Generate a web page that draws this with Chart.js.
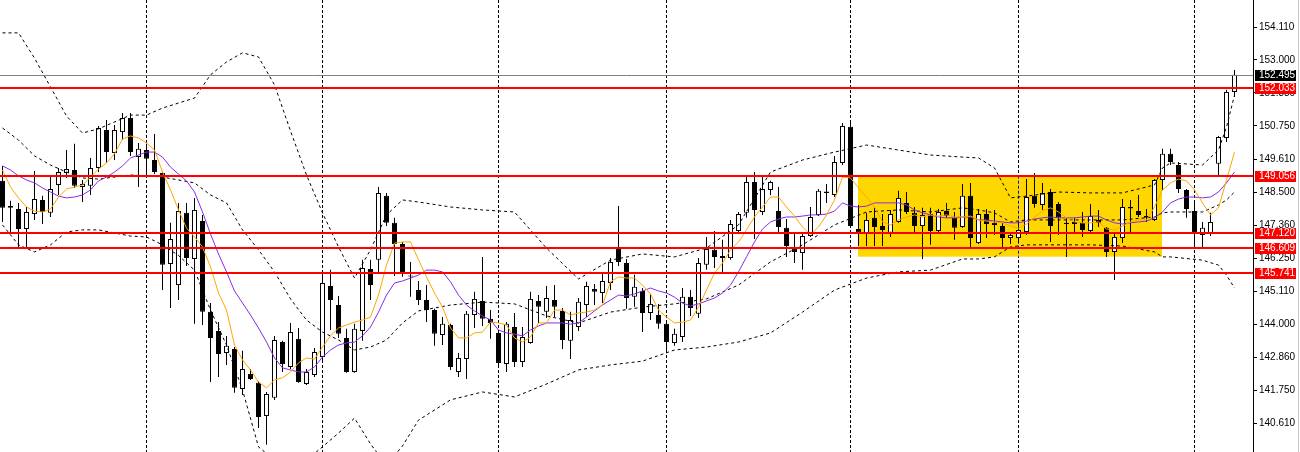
<!DOCTYPE html>
<html>
<head>
<meta charset="utf-8">
<script src="https://cdn.jsdelivr.net/npm/chart.js@4.4.1/dist/chart.umd.min.js"></script>
<style>
  html, body { margin: 0; padding: 0; background: #fff; }
  canvas { display: block; }
</style>
</head>
<body>
<canvas id="chart" width="1300" height="452"></canvas>
<script>
// candles, oldest first
const candleOpen = [
  148.88,147.96,147.92,147.24,147.75,148.23,147.79,148.74,149.15,149.25,
  148.67,148.71,149.32,150.61,149.83,150.54,151.02,149.69,149.93,149.59,
  149.15,146.05,145.33,147.79,146.22,147.51,144.42,143.77,143.02,143.15,
  141.79,142.30,142.00,140.87,141.49,143.39,142.54,143.50,141.96,142.27,
  142.88,145.30,144.65,143.53,142.37,143.77,145.88,146.19,148.37,147.45,
  146.73,145.64,145.16,144.82,144.48,143.63,143.97,142.37,142.81,144.31,
  144.79,144.18,143.70,142.64,143.90,142.71,143.36,144.79,144.42,144.82,
  144.45,143.43,143.90,144.65,145.20,145.06,145.40,146.63,146.08,144.93,
  145.13,144.38,144.31,144.01,143.36,143.56,144.93,144.35,146.02,146.53,
  146.32,146.25,147.17,147.79,148.84,147.82,148.57,147.85,147.28,146.59,
  146.42,147.00,147.72,148.52,148.40,149.49,150.72,147.24,147.07,147.62,
  147.34,147.11,147.48,148.13,147.79,147.34,147.75,147.17,147.85,147.62,
  147.31,148.37,146.76,147.75,147.45,147.34,146.93,146.93,147.14,148.37,
  148.06,148.50,148.09,147.45,147.41,147.45,147.17,147.55,147.28,146.46,
  146.93,147.99,147.85,147.68,147.55,148.91,149.80,149.42,148.57,147.85,
  147.04,147.07,149.46,150.34,151.91
];
const candleHigh = [
  149.39,148.20,148.13,147.99,149.22,148.37,149.01,149.32,149.93,150.14,
  148.91,149.66,150.75,150.95,150.78,151.19,151.19,150.17,150.14,150.48,
  149.18,147.45,148.13,148.13,148.30,147.72,144.72,144.07,143.60,143.22,
  143.09,142.47,142.06,141.69,143.60,143.43,144.04,143.87,142.47,143.19,
  145.74,145.85,144.96,143.84,144.01,146.19,146.19,148.67,148.47,147.62,
  146.80,146.12,145.47,145.33,144.52,144.24,144.01,143.02,144.45,145.10,
  146.29,144.48,143.77,144.07,144.38,143.90,145.10,144.99,145.30,145.33,
  144.55,144.42,144.89,145.44,145.37,145.74,146.25,148.02,146.22,145.68,
  145.23,145.03,144.69,144.14,143.84,145.23,145.16,146.25,146.97,147.17,
  146.87,147.55,147.82,149.05,149.18,149.05,148.88,148.67,147.58,147.11,
  147.07,147.99,148.60,148.77,149.73,150.85,150.92,148.06,147.79,147.96,
  147.75,147.89,148.54,148.50,147.99,147.96,147.96,147.92,148.13,147.82,
  148.77,148.81,147.92,147.92,147.89,147.45,147.14,147.48,148.94,149.15,
  148.81,148.60,148.16,147.62,147.62,147.82,148.09,147.89,147.31,147.14,
  148.26,148.23,148.40,147.92,148.94,149.97,149.97,149.52,148.60,148.23,
  147.48,147.79,150.41,151.98,152.66
];
const candleLow = [
  147.48,147.14,146.63,146.56,147.55,147.41,147.65,148.40,148.98,148.64,
  148.16,148.40,149.18,149.49,149.59,150.27,149.73,148.67,149.05,149.11,
  145.16,144.55,144.82,145.98,144.01,143.97,142.03,142.20,142.61,141.66,
  141.59,142.10,140.46,139.89,141.42,142.37,142.47,142.00,141.93,142.20,
  142.78,143.80,143.53,142.34,142.34,143.43,144.82,145.71,147.34,145.64,
  145.61,144.93,144.65,144.07,143.26,143.29,142.44,142.20,142.13,143.87,
  143.94,143.50,142.51,142.37,142.54,142.54,143.33,144.04,144.21,144.24,
  143.15,142.81,143.77,144.24,144.65,144.72,145.16,145.98,144.52,144.59,
  143.73,144.14,143.84,143.05,143.26,143.39,144.28,144.21,145.85,145.91,
  145.78,146.19,147.11,147.62,146.90,147.72,148.40,147.11,146.29,146.08,
  145.85,146.97,147.68,148.13,148.33,149.42,147.28,146.66,146.66,146.66,
  146.66,146.97,147.45,147.75,147.07,146.22,146.70,147.14,147.62,146.87,
  147.28,146.59,146.73,146.93,147.04,146.59,146.73,146.76,147.04,147.96,
  147.89,146.80,147.04,146.29,147.11,146.97,147.14,147.31,146.29,145.50,
  146.76,147.14,147.65,147.48,147.51,148.57,149.42,148.47,147.62,146.59,
  146.59,147.00,149.08,150.20,151.74
];
const candleClose = [
  147.96,148.02,147.24,147.82,148.26,147.82,148.60,149.18,149.28,148.71,
  148.77,149.32,150.68,149.86,150.61,151.02,149.86,149.97,149.63,149.18,
  146.02,146.90,147.85,146.25,147.89,144.42,143.53,142.98,143.26,141.83,
  142.47,142.13,140.84,141.62,143.46,142.64,143.73,142.03,142.37,143.05,
  145.40,144.82,143.67,142.37,143.84,145.91,145.33,148.47,147.45,146.73,
  145.71,145.62,144.82,144.48,143.67,144.01,142.54,142.85,144.35,144.86,
  144.18,144.04,142.68,144.01,142.71,143.56,144.86,144.59,144.89,144.59,
  143.46,144.14,144.76,145.30,145.10,145.47,146.12,146.12,144.89,145.27,
  144.38,144.69,144.01,143.39,143.67,144.93,144.55,146.08,146.56,146.29,
  146.25,147.41,147.75,148.84,147.89,148.60,148.84,147.31,146.66,146.46,
  147.00,147.65,148.54,148.47,149.52,150.75,147.34,147.11,147.55,147.31,
  147.21,147.75,148.30,147.82,147.34,147.72,147.17,147.82,147.68,147.28,
  148.37,146.93,147.75,147.41,147.38,146.93,147.04,147.21,148.33,148.09,
  148.47,147.34,147.62,147.41,147.48,147.21,147.68,147.45,146.46,146.97,
  147.99,147.94,147.72,147.62,148.91,149.80,149.52,148.60,147.92,147.07,
  147.28,147.48,150.37,151.91,152.495
];

// moving averages, one value per candle
const maFast = [
  149.25,148.67,148.30,147.99,147.85,147.82,147.92,148.33,148.60,148.67,
  148.74,149.01,149.28,149.49,149.80,150.31,150.41,150.34,150.17,149.93,
  149.18,148.57,147.89,147.27,146.97,146.63,145.95,145.06,144.48,143.29,
  142.78,142.44,142.03,141.83,142.10,142.17,142.37,142.68,142.85,142.81,
  143.22,143.60,143.87,143.97,144.07,144.14,144.24,144.99,146.01,146.76,
  146.80,146.80,146.19,145.61,145.06,144.58,143.87,143.53,143.53,143.70,
  143.73,144.07,144.04,143.97,143.53,143.39,143.56,144.04,144.04,144.48,
  144.48,144.31,144.38,144.41,144.48,144.65,145.44,145.61,145.57,145.57,
  145.33,145.03,144.48,144.24,144.04,144.07,144.14,144.58,145.16,145.74,
  146.08,146.53,146.80,147.21,147.65,147.99,148.33,148.33,147.99,147.68,
  147.31,147.04,147.31,147.72,148.23,149.01,148.98,148.64,148.33,147.99,
  147.48,147.38,147.55,147.65,147.72,147.65,147.72,147.68,147.72,147.65,
  147.65,147.68,147.55,147.51,147.48,147.45,147.34,147.27,147.41,147.65,
  147.85,147.96,147.82,147.62,147.48,147.45,147.45,147.48,147.24,147.21,
  147.34,147.48,147.55,147.55,147.99,148.57,148.81,148.94,148.88,148.57,
  148.13,147.72,147.96,148.91,149.86
];
const maSlow = [
  149.39,149.25,149.05,148.91,148.81,148.64,148.50,148.36,148.30,148.33,
  148.40,148.57,148.88,149.01,149.18,149.39,149.66,149.76,149.86,149.86,
  149.69,149.35,149.11,148.88,148.50,147.82,147.07,146.39,145.78,145.13,
  144.72,144.31,143.87,143.39,142.85,142.51,142.44,142.37,142.37,142.54,
  142.88,143.12,143.29,143.36,143.39,143.60,143.90,144.41,144.99,145.40,
  145.47,145.57,145.67,145.84,145.84,145.78,145.44,144.99,144.65,144.45,
  144.28,144.14,143.80,143.70,143.66,143.60,143.80,143.94,144.04,144.04,
  144.04,144.00,144.04,144.24,144.45,144.65,144.82,144.99,144.96,145.03,
  145.13,145.23,145.13,145.06,144.92,144.72,144.62,144.69,144.79,144.89,
  145.06,145.33,145.78,146.29,146.80,147.24,147.48,147.58,147.65,147.65,
  147.68,147.72,147.72,147.75,147.85,148.13,148.02,147.99,148.02,148.13,
  148.13,148.13,148.13,148.06,147.89,147.79,147.72,147.65,147.62,147.62,
  147.65,147.65,147.55,147.55,147.51,147.48,147.45,147.45,147.51,147.58,
  147.62,147.65,147.62,147.62,147.62,147.65,147.68,147.68,147.55,147.45,
  147.41,147.45,147.48,147.51,147.62,147.82,148.13,148.26,148.33,148.33,
  148.30,148.33,148.50,148.81,149.18
];

// bollinger bands, read at these candles
const bbIdx = [0,2,4,6,8,10,12,16,18,20,22,24,26,28,30,32,34,36,38,40,42,44,46,48,50,52,
  56,60,64,68,72,76,80,84,88,92,96,100,104,108,112,116,120,122,124,126,128,132,136,140,144,145,146,150,152,153,154];
const bbUpper = [153.92,153.92,153.06,152.08,151.09,150.51,150.65,151.12,151.12,151.36,151.53,151.70,152.49,152.93,153.24,153.10,152.15,150.58,149.08,147.79,146.63,145.57,146.53,147.72,148.23,148.16,
  147.99,147.89,147.82,146.59,145.54,146.18,146.39,146.29,146.59,147.38,149.18,149.59,149.86,150.10,149.93,149.76,149.69,149.66,149.32,148.30,148.36,148.50,148.47,148.47,148.74,149.32,149.49,149.42,149.93,150.71,151.80];
const bbMiddle = [150.68,150.27,149.73,149.42,149.18,148.98,148.94,149.08,149.05,149.01,148.91,148.81,148.40,148.13,147.21,146.53,145.78,144.86,144.14,143.73,143.46,143.12,143.22,143.46,144.04,144.45,
  144.65,144.75,144.69,144.28,144.04,144.41,144.58,144.69,144.86,145.33,146.12,146.70,147.38,147.82,147.89,147.82,147.96,147.89,147.79,147.48,147.55,147.55,147.55,147.55,147.65,147.79,147.82,147.82,148.06,148.23,148.50];
const bbLower = [147.38,146.70,146.46,146.70,147.14,147.21,147.21,147.00,146.97,146.70,146.34,145.84,144.48,143.29,141.76,139.82,139.37,139.37,139.37,139.82,140.29,140.80,139.92,139.20,139.85,140.73,
  141.42,141.69,141.52,141.96,142.44,142.61,142.74,143.12,143.22,143.39,143.70,144.41,145.16,145.57,145.78,145.84,146.22,146.22,146.29,146.63,146.70,146.70,146.70,146.66,146.46,146.29,146.29,146.18,146.01,145.67,145.23];

const yTicks = [154.110,153.000,151.880,150.750,149.610,148.500,147.360,146.250,145.110,144.000,142.860,141.750,140.610];
const levels = [152.033,149.056,147.120,146.609,145.741];
const lastPrice = 152.495;
const gridBars = [18,40,62,83,106,127,149];
const zoneFrom = 107, zoneTo = 145, zoneHigh = 149.056, zoneLow = 146.297;

const FONT = '10px "Liberation Sans", Arial, sans-serif';

const wicks = candleOpen.map((o, i) => ({ x: i, y: [candleLow[i], candleHigh[i]] }));
const bodies = candleOpen.map((o, i) => ({ x: i, y: [o, candleClose[i]] }));
const bodyColors = candleOpen.map((o, i) => candleClose[i] >= o ? '#ffffff' : '#000000');

const line = (xs, ys, color, dash, order) => ({
  type: 'line',
  data: ys.map((v, k) => ({ x: xs[k], y: v })),
  borderColor: color,
  borderWidth: 1,
  borderDash: dash,
  pointRadius: 0,
  tension: 0,
  order: order,
});
const bars = [...maFast.keys()];

const overlay = {
  id: 'overlay',
  beforeDatasetsDraw(chart) {
    const { ctx, chartArea: a, scales: { x, y } } = chart;
    ctx.save();
    // vertical period separators
    ctx.strokeStyle = '#000';
    ctx.lineWidth = 1;
    ctx.setLineDash([3, 2]);
    gridBars.forEach(b => {
      const px = Math.floor(x.getPixelForValue(b)) + 0.5;
      ctx.beginPath();
      ctx.moveTo(px, a.top);
      ctx.lineTo(px, a.bottom);
      ctx.stroke();
    });
    // yellow zone
    const zl = Math.floor(x.getPixelForValue(zoneFrom));
    const zr = Math.floor(x.getPixelForValue(zoneTo));
    const zt = y.getPixelForValue(zoneHigh);
    const zb = y.getPixelForValue(zoneLow);
    ctx.fillStyle = '#ffd700';
    ctx.fillRect(zl, zt, zr - zl, zb - zt);
    ctx.strokeStyle = '#0000ff';
    gridBars.filter(b => b > zoneFrom && b < zoneTo).forEach(b => {
      const px = Math.floor(x.getPixelForValue(b)) + 0.5;
      ctx.beginPath();
      ctx.moveTo(px, zt);
      ctx.lineTo(px, zb);
      ctx.stroke();
    });
    ctx.restore();
  },
  afterDatasetsDraw(chart) {
    const { ctx, chartArea: a, scales: { y } } = chart;
    ctx.save();
    ctx.strokeStyle = '#808080';
    ctx.lineWidth = 1;
    const lp = Math.round(y.getPixelForValue(lastPrice)) + 0.5;
    ctx.beginPath();
    ctx.moveTo(a.left, lp);
    ctx.lineTo(a.right, lp);
    ctx.stroke();
    ctx.strokeStyle = '#ff0000';
    ctx.lineWidth = 2;
    levels.forEach(v => {
      const py = Math.round(y.getPixelForValue(v));
      ctx.beginPath();
      ctx.moveTo(a.left, py);
      ctx.lineTo(a.right, py);
      ctx.stroke();
    });
    ctx.restore();
  },
  afterDraw(chart) {
    const { ctx, scales: { y } } = chart;
    ctx.save();
    ctx.font = FONT;
    ctx.textAlign = 'left';
    ctx.textBaseline = 'middle';
    const tag = (v, bg) => {
      const py = Math.round(y.getPixelForValue(v));
      ctx.fillStyle = bg;
      ctx.fillRect(y.left + 2, py - 5, 41, 11);
      ctx.fillStyle = '#fff';
      ctx.fillText(v.toFixed(3), y.left + 6, py + 0.5);
    };
    levels.forEach(v => tag(v, '#ff0000'));
    tag(lastPrice, '#000000');
    ctx.strokeStyle = '#c8c8c8';
    ctx.lineWidth = 1;
    ctx.beginPath();
    ctx.moveTo(1298.5, 0);
    ctx.lineTo(1298.5, chart.height);
    ctx.stroke();
    ctx.restore();
  }
};

new Chart(document.getElementById('chart'), {
  type: 'bar',
  data: {
    datasets: [
      line(bars, maFast, '#ffa500', [], 0),
      line(bars, maSlow, '#8a2be2', [], 1),
      line(bbIdx, bbUpper, '#000000', [3, 3], 2),
      line(bbIdx, bbMiddle, '#000000', [3, 3], 2),
      line(bbIdx, bbLower, '#000000', [3, 3], 2),
      {
        type: 'bar',
        data: bodies,
        backgroundColor: bodyColors,
        borderColor: '#000',
        borderWidth: 1,
        borderSkipped: false,
        inflateAmount: 0,
        grouped: false,
        maxBarThickness: 5,
        minBarLength: 1,
        order: 5,
      },
      {
        type: 'bar',
        data: wicks,
        backgroundColor: '#000',
        borderWidth: 0,
        inflateAmount: 0,
        grouped: false,
        maxBarThickness: 1,
        order: 6,
      },
    ],
  },
  options: {
    responsive: false,
    animation: false,
    devicePixelRatio: 1,
    events: [],
    layout: { padding: 0 },
    plugins: { legend: { display: false }, tooltip: { enabled: false } },
    scales: {
      x: {
        type: 'linear',
        min: -0.3125,
        max: 156.3125,
        offset: false,
        display: false,
      },
      y: {
        type: 'linear',
        position: 'right',
        min: 139.645,
        max: 155.04,
        afterBuildTicks: s => { s.ticks = yTicks.map(v => ({ value: v })); },
        afterFit: s => { s.width = 47; s.paddingTop = 0; s.paddingBottom = 0; },
        border: { display: true, color: '#000', width: 1 },
        grid: { drawOnChartArea: false, drawTicks: true, tickLength: 4, color: '#000' },
        ticks: {
          autoSkip: false,
          padding: 2,
          color: '#000',
          font: { family: '"Liberation Sans", Arial, sans-serif', size: 10 },
          callback: v => Number(v).toFixed(3),
        },
      },
    },
  },
  plugins: [overlay],
});
</script>
</body>
</html>
